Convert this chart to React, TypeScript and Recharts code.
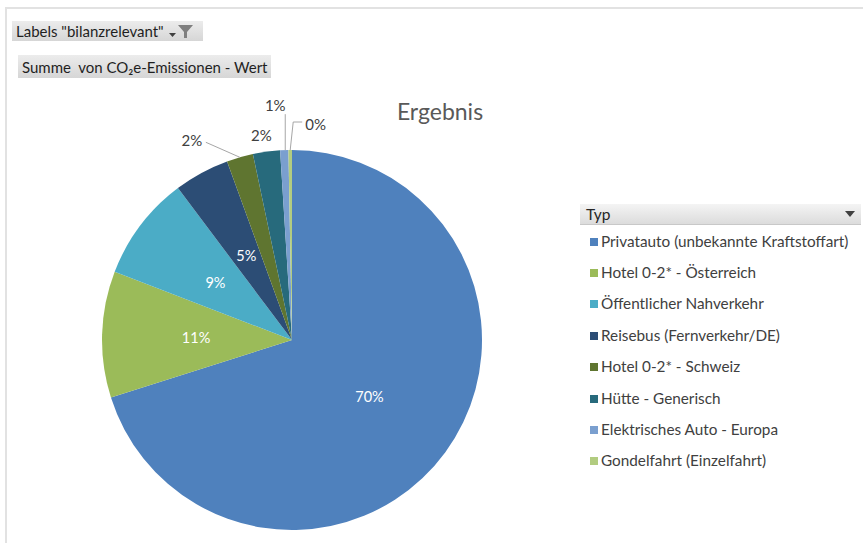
import React from 'react';
import { Legend, Pie, PieChart } from 'recharts';

const TYPES = [
  'Privatauto (unbekannte Kraftstoffart)',
  'Hotel 0-2* - Österreich',
  'Öffentlicher Nahverkehr',
  'Reisebus (Fernverkehr/DE)',
  'Hotel 0-2* - Schweiz',
  'Hütte - Generisch',
  'Elektrisches Auto - Europa',
  'Gondelfahrt (Einzelfahrt)'
];
const VALUES = [70.1, 10.75, 8.9, 4.7, 2.25, 2.3, 0.7, 0.3];
const COLORS = ['#4F81BD', '#9BBB59', '#4BACC6', '#2C4D75', '#5F7530', '#276A7C', '#7A9FCF', '#B2CC80'];

const FONT = 'Lato, "Noto Sans", sans-serif';
const RAD = Math.PI / 180;

const data = TYPES.map((name, i) => ({ name, value: VALUES[i], fill: COLORS[i] }));

const renderLabel = (props: any) => {
  const { cx, cy, midAngle, outerRadius, percent, index } = props;
  const cos = Math.cos(-midAngle * RAD);
  const sin = Math.sin(-midAngle * RAD);
  const text = `${Math.round(percent * 100)}%`;

  if (index < 4) {
    const r = outerRadius * 0.505;
    return (
      <text x={cx + r * cos} y={cy + r * sin} fill="#fff" fontSize={14.5} fontFamily={FONT}
        textAnchor="middle" dominantBaseline="central">
        {text}
      </text>
    );
  }

  const ox = cx + outerRadius * cos;
  const oy = cy + outerRadius * sin;
  const common = { fill: '#404040', fontSize: 15, fontFamily: FONT, dominantBaseline: 'central' as const };

  if (index === 4) {
    return (
      <g>
        <polyline points={`${ox},${oy} ${ox - 34},${oy - 15}`} stroke="#a6a6a6" fill="none" />
        <text x={ox - 48} y={oy - 17} textAnchor="middle" {...common}>{text}</text>
      </g>
    );
  }
  if (index === 5) {
    return <text x={ox - 5} y={oy - 17} textAnchor="middle" {...common}>{text}</text>;
  }
  if (index === 6) {
    return (
      <g>
        <polyline points={`${ox + 1},${oy} ${ox + 1},${oy - 36}`} stroke="#a6a6a6" fill="none" />
        <text x={ox - 9} y={oy - 45} textAnchor="middle" {...common}>{text}</text>
      </g>
    );
  }
  return (
    <g>
      <polyline points={`${ox},${oy} ${ox + 3},${oy - 28} ${ox + 12},${oy - 28}`} stroke="#a6a6a6" fill="none" />
      <text x={ox + 15} y={oy - 26} textAnchor="start" {...common}>{text}</text>
    </g>
  );
};

const LegendContent = (props: any) => {
  const payload = [...(props.payload || [])].sort(
    (a: any, b: any) => TYPES.indexOf(a.value) - TYPES.indexOf(b.value)
  );
  return (
    <div style={{ fontFamily: FONT, width: 281 }}>
      <div style={{
        height: 21, background: 'linear-gradient(#f4f4f4, #dcdcdc)', borderBottom: '1px solid #c8c8c8',
        display: 'flex', alignItems: 'center', justifyContent: 'space-between', padding: '0 6px',
        boxSizing: 'border-box', fontSize: 15.5, color: '#262626'
      }}>
        <span>Typ</span>
        <svg width={10} height={6}><path d="M0,0 L10,0 L5,6 Z" fill="#404040" /></svg>
      </div>
      {payload.map((entry: any) => {
        const i = TYPES.indexOf(entry.value);
        return (
          <div key={entry.value} style={{ height: 31.4, display: 'flex', alignItems: 'center', fontSize: 15.3, color: '#404040' }}>
            <span style={{
              width: 8, height: 8, marginLeft: 10, marginRight: 3, marginTop: 2,
              background: COLORS[i] || entry.color, display: 'inline-block'
            }} />
            <span>{entry.value}</span>
          </div>
        );
      })}
    </div>
  );
};

const Button = ({ left, top, width, height, children }: any) => (
  <div style={{
    position: 'absolute', left, top, width, height, boxSizing: 'border-box',
    background: 'linear-gradient(#ececec, #d6d6d6)', fontFamily: FONT, fontSize: 15, color: '#1f1f1f',
    display: 'flex', alignItems: 'center', paddingLeft: 4
  }}>
    {children}
  </div>
);

export default function App() {
  return (
    <div style={{ position: 'absolute', left: 0, top: 0, width: 863, height: 543, background: '#fff', overflow: 'hidden' }}>
      <div style={{
        position: 'absolute', left: 5, top: 7, right: -2, bottom: -2,
        borderLeft: '2px solid #e2e2e2', borderTop: '2px solid #e2e2e2'
      }} />
      <PieChart width={863} height={543} margin={{ top: 0, right: 0, bottom: 0, left: 0 }}
        style={{ position: 'absolute', left: 0, top: 0 }}>
        <Pie
          data={data}
          dataKey="value"
          nameKey="name"
          cx={292}
          cy={340}
          outerRadius={190}
          startAngle={90}
          endAngle={-270}
          stroke="none"
          label={renderLabel}
          labelLine={false}
          isAnimationActive={false}
        />
        <text x={440} y={111} textAnchor="middle" dominantBaseline="central" fontSize={23} fill="#595959" fontFamily={FONT}>
          Ergebnis
        </text>
        <Legend
          layout="vertical"
          align="right"
          verticalAlign="top"
          content={<LegendContent />}
          wrapperStyle={{ position: 'absolute', left: 580, top: 204, width: 281 }}
        />
      </PieChart>
      <Button left={12} top={21} width={191} height={20}>
        <span>Labels "bilanzrelevant"</span>
        <svg width={30} height={18} style={{ marginLeft: 2 }}>
          <path d="M3,11 L10,11 L6.5,15 Z" fill="#404040" />
          <path d="M12,3 L27,3 L21,10 L21,16 L18,16 L18,10 Z" fill="#7f7f7f" />
        </svg>
      </Button>
      <Button left={18} top={55} width={253} height={23}>
        <span>Summe&nbsp; von CO₂e-Emissionen - Wert</span>
      </Button>
    </div>
  );
}
